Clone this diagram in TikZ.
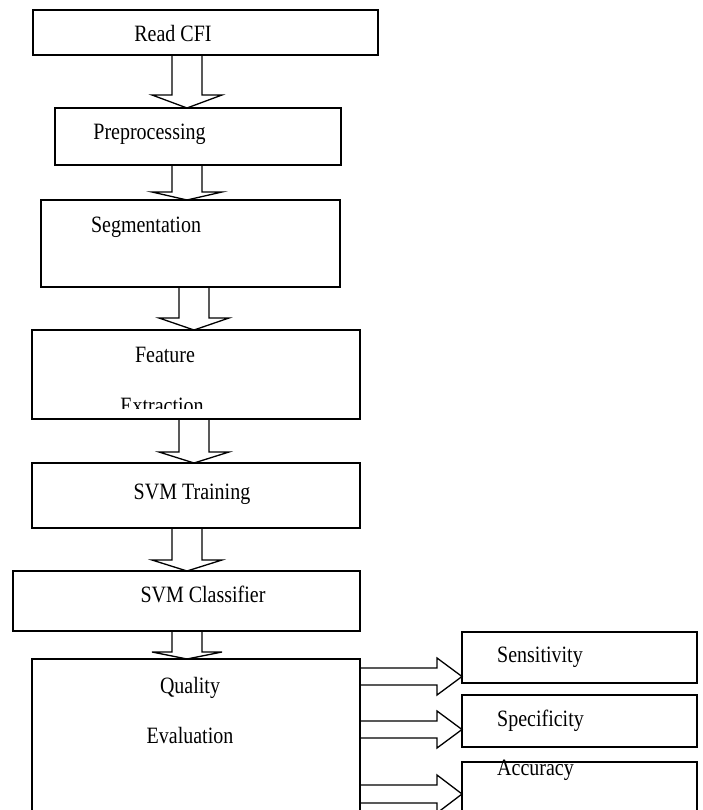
\documentclass[tikz,border=0pt]{standalone}
\usepackage{fontspec}
\usepackage{graphicx}
\setmainfont{Liberation Serif}
\usetikzlibrary{calc}
\tikzset{
  box/.style={draw=black, line width=1.5pt, inner sep=0pt, outer sep=0pt, anchor=north west, fill=none},
  lbl/.style={inner sep=0pt, font=\fontsize{20}{24}\selectfont},
  blk/.style={draw=black, line width=1.3pt, line join=miter},
}
\newcommand{\tallt}[1]{\scalebox{1}[1.17]{#1}}
% vertical block arrow: from, to, left shaft x, right shaft x, head length
\newcommand{\vblk}[5]{%
  \draw[blk] let \p1=(#1.south), \p2=(#2.north) in
    (#3pt,\y1) -- (#3pt,\y2+#5pt) -- (#3pt-20pt,\y2+#5pt) -- ({(#3+#4)/2*1pt},\y2)
    -- (#4pt+20pt,\y2+#5pt) -- (#4pt,\y2+#5pt) -- (#4pt,\y1);}
% horizontal block arrow: from, to, upper shaft y, lower shaft y (pixels, downwards)
\newcommand{\hblk}[4]{%
  \draw[blk] let \p1=(#1.east), \p2=(#2.west) in
    (\x1,-#3pt) -- (\x2-25pt,-#3pt) -- (\x2-25pt,-#3pt+10pt) -- (\x2,{-(#3+#4)/2*1pt})
    -- (\x2-25pt,-#4pt-10pt) -- (\x2-25pt,-#4pt) -- (\x1,-#4pt);}
\begin{document}
\begin{tikzpicture}[x=1pt,y=-1pt]
\useasboundingbox (0,0) rectangle (703,810);
\clip (0,0) rectangle (703,810);
\fill[white] (0,0) rectangle (703,810);
% boxes
\node[box, minimum width=345pt, minimum height=45pt] (read) at (33,10) {};
\node[box, minimum width=286pt, minimum height=57pt] (pre) at (55,108) {};
\node[box, minimum width=299pt, minimum height=87pt] (seg) at (41,200) {};
\node[box, minimum width=328pt, minimum height=89pt] (feat) at (32,330) {};
\node[box, minimum width=328pt, minimum height=65pt] (train) at (32,463) {};
\node[box, minimum width=347pt, minimum height=60pt] (cls) at (13,571) {};
\node[box, minimum width=328pt, minimum height=170pt] (qual) at (32,659) {};
\node[box, minimum width=235pt, minimum height=51pt] (sens) at (462,632) {};
\node[box, minimum width=235pt, minimum height=52pt] (spec) at (462,695) {};
\node[box, minimum width=235pt, minimum height=70pt] (acc) at (462,762) {};
% texts
\node[lbl, anchor=base] (t1) at (173,42) {\tallt{Read CFI}};
\node[lbl, anchor=base] (t2) at (149.5,140) {\tallt{Preprocessing}};
\node[lbl, anchor=base] (t3) at (146,233) {\tallt{Segmentation}};
\node[lbl, anchor=base] (t4) at (165,362) {\tallt{Feature}};
\begin{scope}
  \clip (0,0) rectangle (703,408);
  \node[lbl, anchor=base] (t5) at (162,413) {\tallt{Extraction}};
\end{scope}
\node[lbl, anchor=base] (t6) at (192,499) {\tallt{SVM Training}};
\node[lbl, anchor=base] (t7) at (203,602) {\tallt{SVM Classifier}};
\node[lbl, anchor=base] (t8) at (190,693) {\tallt{Quality}};
\node[lbl, anchor=base] (t9) at (190,743) {\tallt{Evaluation}};
\node[lbl, anchor=base west] (t10) at (497,662) {\tallt{Sensitivity}};
\node[lbl, anchor=base west] (t11) at (497,726) {\tallt{Specificity}};
\node[lbl, anchor=base west] (t12) at (497,775) {\tallt{Accuracy}};
% vertical arrows
\vblk{read}{pre}{172}{202}{13}
\vblk{pre}{seg}{172}{202}{8}
\vblk{seg}{feat}{179}{209}{12}
\vblk{feat}{train}{179}{209}{11}
\vblk{train}{cls}{172}{202}{11}
\vblk{cls}{qual}{172}{202}{7}
% horizontal arrows
\hblk{qual}{sens}{668}{685}
\hblk{qual}{spec}{721}{738}
\hblk{qual}{acc}{785}{803}
\end{tikzpicture}
\end{document}
